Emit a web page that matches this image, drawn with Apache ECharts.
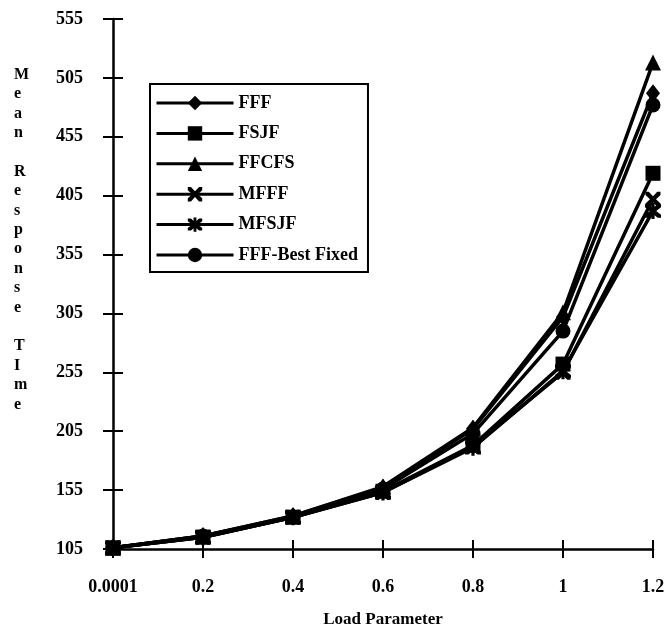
<!DOCTYPE html>
<html>
<head>
<meta charset="utf-8">
<script src="https://cdn.jsdelivr.net/npm/echarts@6/dist/echarts.min.js"></script>
<style>
html,body{margin:0;padding:0;background:#fff;}
#chart{width:669px;height:629px;}
</style>
</head>
<body>
<div id="chart"></div>
<script>
var categories = ['0.0001', '0.2', '0.4', '0.6', '0.8', '1', '1.2'];
var yTicks = [105, 155, 205, 255, 305, 355, 405, 455, 505, 555];
var fff       = [106, 116, 133, 157, 207, 302, 492];
var fsjf      = [106, 115, 132, 154, 193, 262, 424];
var ffcfs     = [106, 116, 133, 158, 208, 306, 518];
var mfff      = [106, 115, 132, 153, 192, 255, 402];
var mfsjf     = [106, 115, 132, 153, 191, 256, 392];
var fffBest   = [106, 116, 132, 156, 203, 290, 482];
var seriesNames = ['FFF', 'FSJF', 'FFCFS', 'MFFF', 'MFSJF', 'FFF-Best Fixed'];

var FONT = '"Liberation Serif", "DejaVu Serif", serif';
var xPath = 'path://M0,0 L2.2,0 L5,3 L7.8,0 L10,0 L10,2.2 L7,5 L10,7.8 L10,10 L7.8,10 L5,7 L2.2,10 L0,10 L0,7.8 L3,5 L0,2.2 Z';
var starPath = 'path://M0,0 L2.2,0 L5,3 L7.8,0 L10,0 L10,2.2 L7,5 L10,7.8 L10,10 L7.8,10 L5,7 L2.2,10 L0,10 L0,7.8 L3,5 L0,2.2 Z M4,-1 L6,-1 L6,11 L4,11 Z';

function mk(name, data, symbol, size) {
  return {
    name: name, type: 'line', data: data,
    symbol: symbol, symbolSize: size,
    showAllSymbol: true,
    lineStyle: { color: '#000', width: 3.5 },
    itemStyle: { color: '#000', borderColor: '#000', borderWidth: 0 },
    emphasis: { disabled: true },
    animation: false
  };
}

var chart = echarts.init(document.getElementById('chart'), null, { renderer: 'canvas' });

var axisCommon = {
  min: yTicks[0], max: yTicks[yTicks.length - 1], interval: yTicks[1] - yTicks[0]
};

chart.setOption({
  backgroundColor: '#fff',
  animation: false,
  grid: { left: 113, right: 16, top: 19, bottom: 80, containLabel: false, outerBoundsMode: 'none' },
  legend: {
    data: seriesNames,
    orient: 'vertical',
    left: 150, top: 84,
    backgroundColor: '#fff',
    borderColor: '#000', borderWidth: 2,
    padding: [10, 10, 8, 5],
    itemWidth: 77, itemHeight: 18, itemGap: 12.4,
    itemTextGap: 6,
    lineStyle: { width: 3, color: '#000' },
    textStyle: { fontFamily: FONT, fontWeight: 'bold', fontSize: 18, color: '#000' },
    selectedMode: false
  },
  xAxis: [{
    type: 'category', data: categories, boundaryGap: false,
    axisLine: { lineStyle: { color: '#000', width: 2.5 } },
    axisTick: { show: true, alignWithLabel: true, length: 9, lineStyle: { color: '#000', width: 2 } },
    axisLabel: { fontFamily: FONT, fontWeight: 'bold', fontSize: 18, color: '#000', margin: 29 },
    splitLine: { show: false },
    name: 'Load Parameter', nameLocation: 'middle', nameGap: 62,
    nameTextStyle: { fontFamily: FONT, fontWeight: 'bold', fontSize: 17, color: '#000' }
  }, {
    type: 'category', data: categories, boundaryGap: false, position: 'bottom',
    axisLine: { show: false },
    axisTick: { show: true, inside: true, length: 9, lineStyle: { color: '#000', width: 2 } },
    axisLabel: { show: false }, splitLine: { show: false }
  }],
  yAxis: [Object.assign({
    type: 'value',
    axisLine: { show: true, lineStyle: { color: '#000', width: 2.5 } },
    axisTick: { show: true, length: 10, lineStyle: { color: '#000', width: 2 } },
    axisLabel: { fontFamily: FONT, fontWeight: 'bold', fontSize: 18, color: '#000', margin: 30 },
    splitLine: { show: false }
  }, axisCommon), Object.assign({
    type: 'value', position: 'left',
    axisLine: { show: false },
    axisTick: { show: true, inside: true, length: 10, lineStyle: { color: '#000', width: 2 } },
    axisLabel: { show: false }, splitLine: { show: false }
  }, axisCommon)],
  graphic: [{
    type: 'text', left: 14, top: 65,
    style: {
      text: 'M\ne\na\nn\n\nR\ne\ns\np\no\nn\ns\ne\n\nT\nI\nm\ne',
      font: 'bold 16px ' + FONT, fill: '#000',
      align: 'center', lineHeight: 19.4, width: 16
    }
  }],
  series: [
    mk('FFF', fff, 'diamond', [14, 18]),
    mk('FSJF', fsjf, 'rect', 15),
    mk('FFCFS', ffcfs, 'triangle', 16),
    mk('MFFF', mfff, xPath, 15),
    mk('MFSJF', mfsjf, starPath, 16),
    mk('FFF-Best Fixed', fffBest, 'circle', 15)
  ]
});
</script>
</body>
</html>
